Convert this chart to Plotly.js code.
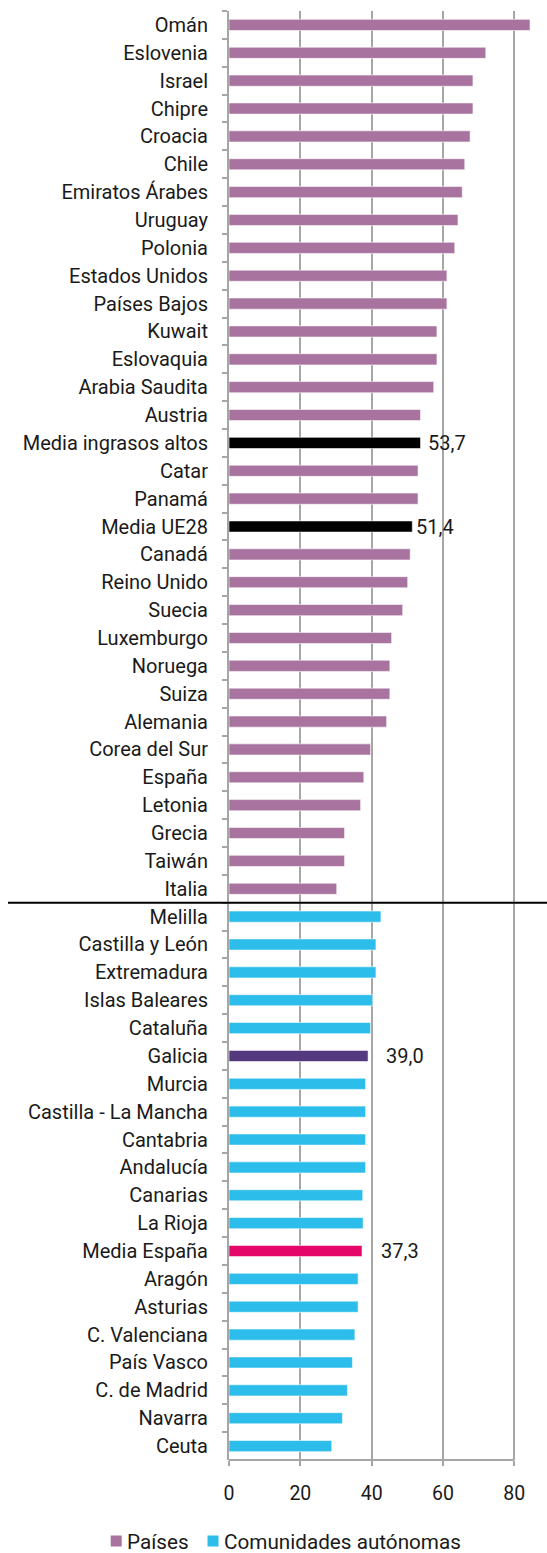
<!DOCTYPE html>
<html>
<head>
<meta charset="utf-8">
<script src="https://cdn.plot.ly/plotly-3.0.1.min.js"></script>
<style>html,body{margin:0;padding:0;background:#fff;}#chart{width:547px;height:1553px;}</style>
</head>
<body>
<div id="chart"></div>
<script>
const paises = ["Omán","Eslovenia","Israel","Chipre","Croacia","Chile","Emiratos Árabes","Uruguay","Polonia","Estados Unidos","Países Bajos","Kuwait","Eslovaquia","Arabia Saudita","Austria","Media ingrasos altos","Catar","Panamá","Media UE28","Canadá","Reino Unido","Suecia","Luxemburgo","Noruega","Suiza","Alemania","Corea del Sur","España","Letonia","Grecia","Taiwán","Italia"];
const valoresPaises = [84.4,72.0,68.4,68.4,67.6,66.1,65.4,64.2,63.3,61.1,61.1,58.3,58.3,57.4,53.7,53.7,53.0,53.0,51.4,50.8,50.1,48.7,45.6,45.1,45.1,44.2,39.7,37.8,36.9,32.4,32.4,30.2];
const comunidades = ["Melilla","Castilla y León","Extremadura","Islas Baleares","Cataluña","Galicia","Murcia","Castilla - La Mancha","Cantabria","Andalucía","Canarias","La Rioja","Media España","Aragón","Asturias","C. Valenciana","País Vasco","C. de Madrid","Navarra","Ceuta"];
const valoresComunidades = [42.6,41.2,41.2,40.3,39.7,39.0,38.3,38.3,38.3,38.3,37.5,37.6,37.3,36.2,36.2,35.3,34.6,33.2,31.8,28.8];
const xTicks = [0,20,40,60,80];
const etiquetados = ["Media ingrasos altos","Media UE28","Galicia","Media España"];
const series = ["Países","Comunidades autónomas"];

const colorPaises = "#A8739F", colorCom = "#2CBDEB";
const especiales = {"Media ingrasos altos":"#000000","Media UE28":"#000000","Galicia":"#533A7E","Media España":"#E5066A"};
const shift = {"Media ingrasos altos":5,"Media UE28":2,"Galicia":16,"Media España":17};

const font = "Roboto, 'Liberation Sans', sans-serif";
const txt = "#1a1a1a";
const grid = "#A6A6A6";

const traces = [
  {type:"bar", orientation:"h", name:series[0], y:paises, x:valoresPaises, width:0.4,
   marker:{color:paises.map(p=>especiales[p]||colorPaises), line:{width:0.8,color:"rgba(255,255,255,0.7)"}}, hoverinfo:"x+y"},
  {type:"bar", orientation:"h", name:series[1], y:comunidades, x:valoresComunidades, width:0.4,
   marker:{color:comunidades.map(p=>especiales[p]||colorCom), line:{width:0.8,color:"rgba(255,255,255,0.7)"}}, hoverinfo:"x+y"}
];

const todos = paises.concat(comunidades);
const todosVal = valoresPaises.concat(valoresComunidades);
const annotations = etiquetados.map(n => {
  const v = todosVal[todos.indexOf(n)];
  return {x:v, y:n, xref:"x", yref:"y", text:v.toFixed(1).replace(".",","), showarrow:false,
          xanchor:"left", yanchor:"middle", xshift:shift[n], font:{family:font,size:20,color:txt}};
});

// custom legend (pixel positions converted to paper units)
const L = 229, W = 547-229-7, T = 11, H = 1553-11-93;
const px = v => (v - L) / W, py = v => (T + H - v) / H;
const legItems = [
  {name:series[0], color:colorPaises, sq:110.7, tx:125.5},
  {name:series[1], color:colorCom, sq:207.5, tx:223}
];
const shapes = [
  {type:"line", xref:"x", yref:"paper", x0:0, x1:80, y0:0, y1:0, line:{color:grid,width:2}},
  {type:"line", xref:"paper", yref:"y", x0:px(8), x1:px(550), y0:paises.length-0.5, y1:paises.length-0.5, line:{color:"#000",width:2}}
];
legItems.forEach(it => {
  shapes.push({type:"rect", xref:"paper", yref:"paper", x0:px(it.sq), x1:px(it.sq+11), y0:py(1546.5), y1:py(1535.5),
               fillcolor:it.color, line:{width:0}});
  annotations.push({xref:"paper", yref:"paper", x:px(it.tx), y:py(1542), xanchor:"left", yanchor:"middle",
                    text:it.name, showarrow:false, borderpad:0, font:{family:font,size:20.7,color:txt}});
});

const layout = {
  width:547, height:1553,
  margin:{l:L, r:7, t:T, b:93, autoexpand:false},
  paper_bgcolor:"#fff", plot_bgcolor:"#fff",
  font:{family:font, size:20, color:txt},
  barmode:"overlay",
  showlegend:false,
  xaxis:{range:[0,87.2], tickvals:xTicks, ticktext:xTicks.map(String), showgrid:true, gridcolor:grid, gridwidth:2,
         zeroline:false, showline:false, ticks:"outside", ticklen:5, tickwidth:2, tickcolor:grid, ticklabelstandoff:11,
         tickfont:{family:font,size:19.5,color:txt}, fixedrange:true},
  yaxis:{type:"category", categoryorder:"array", categoryarray:todos, autorange:"reversed", tickson:"boundaries",
         ticks:"outside", ticklen:5, tickwidth:2, tickcolor:grid, showline:true, linecolor:grid, linewidth:2,
         showgrid:false, zeroline:false, ticklabelstandoff:15, tickfont:{family:font,size:20,color:txt}, fixedrange:true},
  shapes:shapes,
  annotations:annotations
};

Plotly.newPlot("chart", traces, layout, {displayModeBar:false, staticPlot:true});
</script>
</body>
</html>
